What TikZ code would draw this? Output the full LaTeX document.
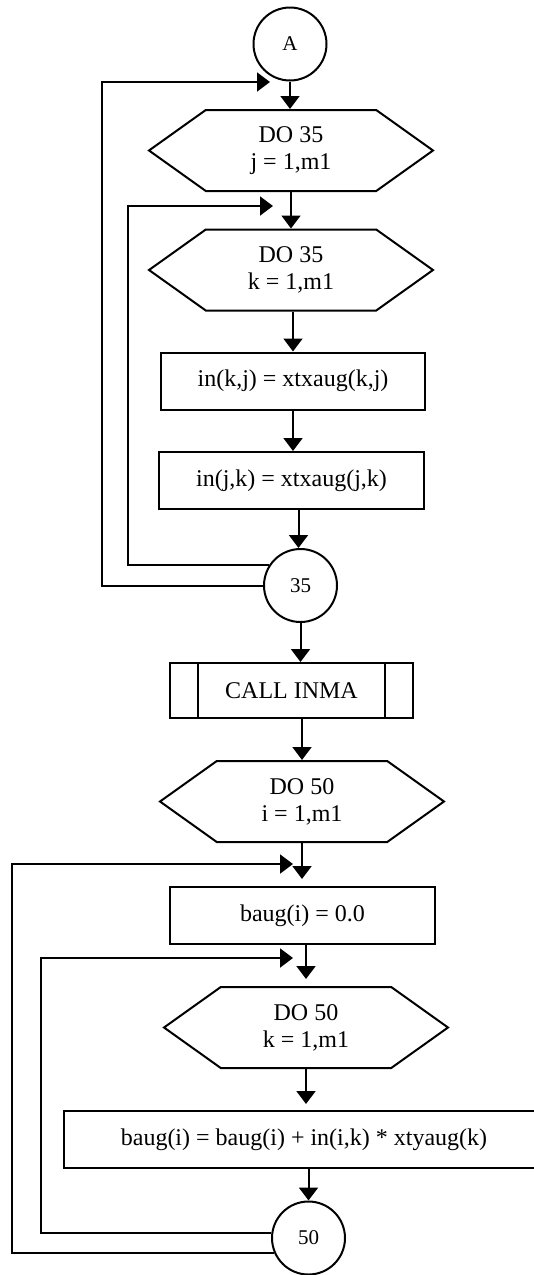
\documentclass[tikz,border=0pt]{standalone}
\usepackage{fontspec}
\setmainfont{Liberation Serif}
\usetikzlibrary{arrows.meta,shapes.symbols}

\tikzset{
  flow/.style={line width=2pt, -{Triangle[length=13pt,width=19pt]}},
  conn/.style={circle, draw, line width=2pt, minimum size=73pt, inner sep=0pt,
    font=\fontsize{21}{25}\selectfont},
  doloop/.style={signal, signal to=west and east, signal pointer angle=71, draw,
    line width=2pt, minimum width=284pt, minimum height=81pt, inner sep=0pt,
    align=center, font=\fontsize{24}{27}\selectfont},
  stepbox/.style={rectangle, draw, line width=2pt, minimum height=57pt,
    font=\fontsize{24}{27}\selectfont},
  callbox/.style={stepbox, minimum width=243pt, minimum height=55pt}
}

\begin{document}
\begin{tikzpicture}[x=1pt,y=-1pt]
    \useasboundingbox (0,0) rectangle (534,1275);

    % Loop over j and k
    \node[conn] (A) at (290,44) {A};
    \node[doloop] (doj) at (291,150.5) {DO 35\\j = 1,m1};
    \node[doloop] (dok) at (291,270) {DO 35\\k = 1,m1};
    \node[stepbox, minimum width=264pt] (inkj) at (293,381) {in(k,j) = xtxaug(k,j)};
    \node[stepbox, minimum width=265pt] (injk) at (291.5,480.5) {in(j,k) = xtxaug(j,k)};
    \node[conn] (c35) at (300.5,585.5) {35};

    % Subroutine
    \node[callbox] (call) at (291.5,690.5) {CALL INMA};
    \draw[line width=2pt] ([xshift=29pt]call.north west) -- ([xshift=29pt]call.south west);
    \draw[line width=2pt] ([xshift=-29pt]call.north east) -- ([xshift=-29pt]call.south east);

    % Loop over i and k
    \node[doloop] (doi) at (302,801.5) {DO 50\\i = 1,m1};
    \node[stepbox, minimum width=265pt] (bzero) at (302.5,915.5) {baug(i) = 0.0};
    \node[doloop] (dokk) at (306,1027.5) {DO 50\\k = 1,m1};
    \node[stepbox, minimum width=480pt] (bsum) at (304,1139.5) {baug(i) = baug(i) + in(i,k) * xtyaug(k)};
    \node[conn] (c50) at (308.5,1238) {50};

    % Main flow
    \draw[flow] (A.south) -- (A.south |- doj.north);
    \draw[flow] (doj.south) -- (doj.south |- dok.north);
    \draw[flow] (inkj.north |- dok.south) -- (inkj.north);
    \draw[flow] (inkj.south) -- (inkj.south |- injk.north);
    \draw[flow] ([xshift=-2pt]injk.south -| c35.north) -- ([xshift=-2pt]c35.north);
    \draw[flow] (c35.south) -- (c35.south |- call.north);
    \draw[flow] (call.south -| doi.north) -- (doi.north);
    \draw[flow, shorten >=7pt] (doi.south) -- (doi.south |- bzero.north);
    \draw[flow, shorten >=7pt] (bzero.south -| dokk.north) -- (dokk.north);
    \draw[flow, shorten >=6pt] (dokk.south) -- (dokk.south |- bsum.north);
    \draw[flow] (bsum.south -| c50.north) -- (c50.north);

    % Loop returns
    \coordinate (jin) at (270,82);
    \coordinate (kin) at (273,206);
    \coordinate (iin) at (293,864);
    \coordinate (kkin) at (293,958);
    \draw[flow] (c35.west) -| (102,0 |- jin) -- (jin);
    \draw[flow] (c35.146) -| (128,0 |- kin) -- (kin);
    \draw[flow] (c50.204) -| (12,0 |- iin) -- (iin);
    \draw[flow] (c50.172) -| (41,0 |- kkin) -- (kkin);
\end{tikzpicture}
\end{document}
